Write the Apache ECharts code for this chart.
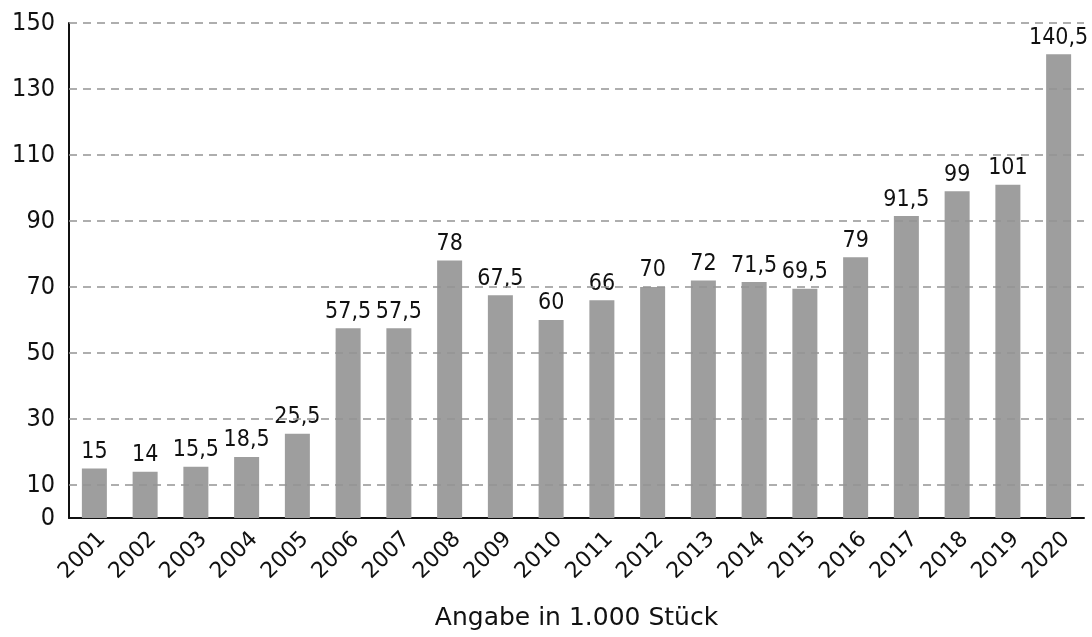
<!DOCTYPE html>
<html>
<head>
<meta charset="utf-8">
<script src="https://cdn.jsdelivr.net/npm/echarts@6/dist/echarts.min.js"></script>
<style>
  html, body { margin: 0; padding: 0; background: #fff; }
  #chart { width: 1092px; height: 637px; }
</style>
</head>
<body>
<div id="chart"></div>
<script>
// Stückzahlen 2001–2020, Angabe in 1.000 Stück
const years = ['2001', '2002', '2003', '2004', '2005', '2006', '2007', '2008', '2009', '2010',
  '2011', '2012', '2013', '2014', '2015', '2016', '2017', '2018', '2019', '2020'];
const values = [15, 14, 15.5, 18.5, 25.5, 57.5, 57.5, 78, 67.5, 60,
  66, 70, 72, 71.5, 69.5, 79, 91.5, 99, 101, 140.5];
// beschriftete Werte der y-Achse und gestrichelte Hilfslinien
const yLabels = [0, 10, 30, 50, 70, 90, 110, 130, 150];
const gridLines = [10, 30, 50, 70, 90, 110, 130, 150];

const FONT = '"DejaVu Sans", sans-serif';
const FONT_NARROW = '"DejaVu Sans Condensed", "Open Sans", sans-serif';
const fmt = v => String(v).replace('.', ',');

const chart = echarts.init(document.getElementById('chart'));
chart.setOption({
  animation: false,
  grid: { left: 69, right: 8, top: 23, bottom: 119, outerBoundsMode: 'none' },
  xAxis: {
    type: 'category',
    data: years,
    name: 'Angabe in 1.000 Stück',
    nameLocation: 'middle',
    nameGap: 88,
    nameTextStyle: { fontFamily: FONT, fontSize: 25, color: '#111' },
    axisLine: { lineStyle: { color: '#111', width: 2 } },
    axisTick: { show: false },
    axisLabel: {
      rotate: 45, interval: 0, margin: 10,
      verticalAlign: 'top',
      fontFamily: FONT, fontSize: 22, color: '#111'
    }
  },
  yAxis: {
    type: 'value',
    min: 0, max: 150, interval: 10,
    axisLine: { show: true, lineStyle: { color: '#111', width: 2 } },
    axisTick: { show: false },
    splitLine: { show: false },
    axisLabel: {
      margin: 14,
      fontFamily: FONT_NARROW, fontSize: 25, color: '#111',
      formatter: v => (yLabels.includes(v) ? String(v) : '')
    }
  },
  series: [{
    type: 'bar',
    data: values,
    barWidth: 25,
    itemStyle: { color: '#9e9e9e' },
    label: {
      show: true, position: 'top', distance: 5,
      fontFamily: FONT_NARROW, fontSize: 23, color: '#111',
      formatter: p => fmt(p.value)
    },
    markLine: {
      silent: true,
      symbol: 'none',
      label: { show: false },
      lineStyle: { color: '#949494', type: [8, 6], width: 1.5 },
      data: gridLines.map(v => ({ yAxis: v }))
    },
    z: 3
  }]
});
</script>
</body>
</html>
